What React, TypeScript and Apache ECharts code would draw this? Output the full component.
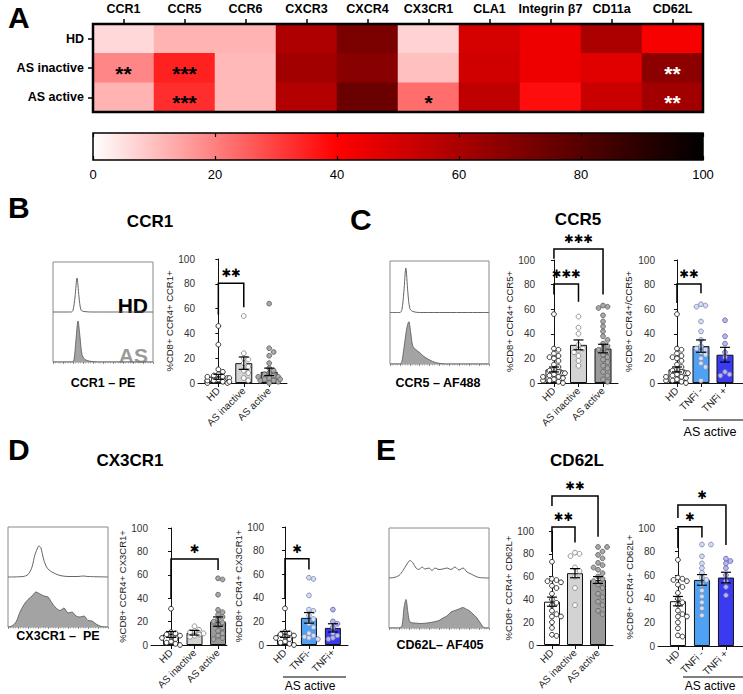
import React, { useEffect, useRef } from 'react';
import * as echarts from 'echarts';

const FONT = '"Liberation Sans", Arial, sans-serif';
const STARFONT = '"DejaVu Sans", sans-serif';

// ---------- Panel A: heatmap ----------
const markers = ['CCR1', 'CCR5', 'CCR6', 'CXCR3', 'CXCR4', 'CX3CR1', 'CLA1', 'Integrin β7', 'CD11a', 'CD62L'];
const heatRows = ['HD', 'AS inactive', 'AS active'];
const heatHD = [6, 12, 12, 59, 71, 7, 50, 44, 60, 42];
const heatInactive = [19, 35, 11, 62, 68, 10, 51, 44, 47, 67];
const heatActive = [12, 33, 11, 58, 75, 23, 55, 38, 53, 62];
const starsHD = ['', '', '', '', '', '', '', '', '', ''];
const starsInactive = ['**', '***', '', '', '', '', '', '', '', '**'];
const starsActive = ['', '***', '', '', '', '*', '', '', '', '**'];
const scaleColors = ['#ffffff', '#ff8080', '#ff0000', '#aa0000', '#550000', '#000000'];

// ---------- Histograms [position, density] ----------
const histB_HD = [[0, 0], [18, 0], [20, 0.03], [22, 0.3], [24, 0.68], [26, 0.3], [28, 0.04], [31, 0.01], [40, 0], [100, 0]];
const histB_AS = [[0, 0], [19, 0], [21, 0.05], [23, 0.45], [25, 0.82], [27, 0.5], [29, 0.15], [32, 0.05], [36, 0.02], [45, 0], [100, 0]];
const histC_HD = [[0, 0], [10, 0], [12, 0.05], [14, 0.4], [16, 0.86], [18, 0.4], [20, 0.08], [23, 0.02], [30, 0], [100, 0]];
const histC_AS = [[0, 0], [10, 0], [12, 0.05], [14, 0.3], [17, 0.7], [19, 0.82], [21, 0.6], [23, 0.35], [26, 0.28], [30, 0.22], [34, 0.15], [38, 0.1], [43, 0.05], [48, 0.02], [55, 0], [100, 0]];
const histD_HD = [[0, 0], [15, 0.01], [20, 0.05], [24, 0.2], [27, 0.45], [30, 0.6], [31, 0.62], [33, 0.58], [35, 0.4], [38, 0.22], [41, 0.14], [44, 0.1], [48, 0.06], [52, 0.03], [60, 0.01], [70, 0.01], [75, 0.02], [80, 0.01], [100, 0]];
const histD_AS = [[0, 0], [4, 0.02], [8, 0.1], [12, 0.3], [16, 0.45], [20, 0.55], [24, 0.62], [28, 0.7], [32, 0.66], [36, 0.62], [40, 0.6], [44, 0.48], [48, 0.38], [52, 0.33], [56, 0.38], [60, 0.28], [64, 0.3], [68, 0.22], [72, 0.2], [76, 0.22], [80, 0.13], [84, 0.12], [88, 0.06], [92, 0.02], [96, 0], [100, 0]];
const histE_HD = [[0, 0], [5, 0.01], [10, 0.05], [14, 0.15], [18, 0.28], [21, 0.35], [24, 0.3], [27, 0.2], [30, 0.17], [33, 0.22], [36, 0.18], [40, 0.2], [43, 0.15], [46, 0.2], [50, 0.17], [54, 0.18], [58, 0.2], [62, 0.17], [66, 0.22], [70, 0.16], [74, 0.2], [78, 0.12], [82, 0.08], [86, 0.04], [90, 0.01], [100, 0]];
const histE_AS = [[0, 0], [10, 0], [13, 0.05], [15, 0.4], [17, 0.57], [19, 0.3], [21, 0.12], [26, 0.1], [32, 0.09], [38, 0.1], [44, 0.12], [50, 0.15], [54, 0.2], [58, 0.24], [62, 0.32], [66, 0.35], [70, 0.38], [74, 0.41], [77, 0.38], [80, 0.35], [84, 0.28], [88, 0.2], [92, 0.08], [96, 0], [100, 0]];

// ---------- Bar chart categories ----------
const diseaseLabels = ['HD', 'AS inactive', 'AS active'];
const tnfLabelsSpaced = ['HD', 'TNFi -', 'TNFi +'];
const tnfLabels = ['HD', 'TNFi-', 'TNFi+'];

// CCR1
const ccr1Mean = [5, 16, 9];
const ccr1Sem = [2, 5, 3];
const ccr1HD = [46, 31, 11, 9, 7, 6, 5, 4, 3, 3, 2, 2, 1, 1, 0, 0, 4, 2, 1, 5];
const ccr1Inactive = [54, 24, 20, 19, 16, 13, 10, 8, 4, 2];
const ccr1Active = [64, 28, 25, 22, 16, 12, 10, 8, 7, 6, 5, 4, 3, 2, 1, 0, 2, 5, 3];
// CCR5
const ccr5Mean = [11, 31, 28];
const ccr5Sem = [2, 4, 3.5];
const ccr5HD = [56, 28, 27, 24, 22, 21, 20, 18, 15, 13, 11, 10, 9, 8, 7, 6, 5, 4, 3, 2, 2, 1, 0, 5, 8];
const ccr5Inactive = [54, 45, 40, 31, 28, 27, 25, 22, 18, 14];
const ccr5Active = [63, 62, 61, 55, 50, 46, 42, 38, 35, 32, 30, 28, 27, 25, 23, 21, 19, 17, 14, 12, 9, 6, 3, 1];
const ccr5TnfMean = [11, 30, 23];
const ccr5TnfSem = [2, 5, 6];
const ccr5TnfNeg = [64, 63, 62, 50, 42, 35, 30, 27, 25, 23, 20, 16, 13, 2, 28];
const ccr5TnfPos = [51, 38, 32, 25, 9, 7, 6, 21];
// CX3CR1
const cx3Mean = [9, 10.5, 20];
const cx3Sem = [2.5, 2, 4];
const cx3HD = [31, 11, 10, 9, 8, 7, 5, 3, 2, 1, 0, 6];
const cx3Inactive = [16, 13, 12, 11, 10, 9, 8, 7];
const cx3Active = [57, 56, 43, 30, 28, 26, 24, 22, 19, 17, 15, 12, 10, 8, 6, 5, 20];
const cx3TnfMean = [9, 23, 14.5];
const cx3TnfSem = [2.5, 4.5, 3.5];
const cx3TnfNeg = [57, 56, 42, 30, 29, 25, 22, 18, 15, 10, 8, 7, 6, 5];
const cx3TnfPos = [30, 20, 18, 15, 10, 8, 6, 5];
// CD62L
const cd62Mean = [38, 63, 57];
const cd62Sem = [4, 4, 3];
const cd62HD = [73, 58, 57, 56, 55, 52, 50, 45, 40, 37, 35, 30, 27, 25, 25, 20, 15, 9, 8];
const cd62Inactive = [81, 80, 78, 68, 65, 60, 50, 35];
const cd62Active = [86, 86, 82, 79, 76, 72, 70, 68, 66, 63, 60, 58, 56, 53, 50, 45, 42, 38, 35, 30, 27];
const cd62TnfMean = [38, 56, 58];
const cd62TnfSem = [4, 4.5, 4.5];
const cd62TnfNeg = [86, 86, 76, 70, 66, 62, 58, 56, 52, 47, 42, 37, 32, 26];
const cd62TnfPos = [74, 72, 70, 66, 60, 55, 50, 43];

// significance brackets: [group1, group2, top, left leg end, right leg end]
const ccr1Brackets = [[0, 1, 80.5, 55, 61]];
const ccr1Stars = ['✱✱'];
const ccr5Brackets = [[0, 1, 80.5, 72, 66], [0, 2, 109, 101, 72]];
const ccr5Stars = ['✱✱✱', '✱✱✱'];
const ccr5TnfBrackets = [[0, 1, 80.5, 65, 73]];
const ccr5TnfStars = ['✱✱'];
const cx3Brackets = [[0, 2, 73.5, 40, 64]];
const cx3Stars = ['✱'];
const cx3TnfBrackets = [[0, 1, 73, 39, 64]];
const cx3TnfStars = ['✱'];
const cd62Brackets = [[0, 1, 103.5, 81.5, 90], [0, 2, 130.7, 122, 95]];
const cd62Stars = ['✱✱', '✱✱'];
const cd62TnfBrackets = [[0, 1, 101, 83, 92], [0, 2, 119.5, 108.5, 85.6]];
const cd62TnfStars = ['✱', '✱'];

// styles
const grayFills = ['#ffffff', '#d3d3d3', '#9a9a9a'];
const grayPtFill = ['#ffffff', '#ffffff', '#a8a8a8'];
const grayPtStroke = ['#222222', '#888888', '#666666'];
const blueFills = ['#ffffff', '#4ea1f5', '#3a3af2'];
const bluePtFill = ['#ffffff', '#d6dcf0', '#b8b8ea'];
const bluePtStroke = ['#222222', '#7f8fb8', '#6a6ab8'];

function swarm(vals: number[], pxPerUnit: number): number[] {
  const placed: { x: number; y: number }[] = [];
  const out: number[] = [];
  const r = 4.6;
  const cands = [0, 4.5, -4.5, 9, -9, 11, -11];
  for (const v of vals) {
    const y = v * pxPerUnit;
    let chosen = cands[cands.length - 1] * (placed.length % 2 ? 1 : -1);
    for (const c of cands) {
      if (placed.every((p) => (p.x - c) ** 2 + (p.y - y) ** 2 >= r * r)) {
        chosen = c;
        break;
      }
    }
    placed.push({ x: chosen, y });
    out.push(chosen);
  }
  return out;
}

function buildOption() {
  const grids: any[] = [];
  const xAxes: any[] = [];
  const yAxes: any[] = [];
  const series: any[] = [];

  // ---- heatmap grid ----
  grids.push({ left: 93, top: 24, width: 610, height: 88 });
  xAxes.push({
    gridIndex: 0, type: 'category', data: markers, position: 'top',
    axisLine: { show: false },
    axisTick: { show: true, alignWithLabel: true, length: 5, lineStyle: { color: '#000', width: 1.5 } },
    axisLabel: { fontFamily: FONT, fontWeight: 'bold', fontSize: 12.5, color: '#000', margin: 9, interval: 0 },
    splitLine: { show: false },
  });
  yAxes.push({
    gridIndex: 0, type: 'category', data: heatRows, inverse: true,
    axisLine: { show: false },
    axisTick: { show: true, alignWithLabel: true, length: 5, lineStyle: { color: '#000', width: 1.5 } },
    axisLabel: { fontFamily: FONT, fontWeight: 'bold', fontSize: 12.5, color: '#000', margin: 9 },
    splitLine: { show: false },
  });
  const heatRowsData = [heatHD, heatInactive, heatActive];
  const heatStars = [starsHD, starsInactive, starsActive];
  const heatData: any[] = [];
  heatRowsData.forEach((row, r) =>
    row.forEach((v, c) =>
      heatData.push({
        value: [c, r, v],
        label: { formatter: heatStars[r][c] || ' ', color: v > 60 ? '#ffffff' : '#000000' },
      })
    )
  );
  series.push({
    type: 'heatmap', xAxisIndex: 0, yAxisIndex: 0, data: heatData, silent: true,
    label: { show: true, fontFamily: FONT, fontWeight: 'bold', fontSize: 21, offset: [0, 5] },
    itemStyle: { borderWidth: 0 },
  });
  series.push({
    type: 'custom', xAxisIndex: 0, yAxisIndex: 0, data: [[0, 0]], z: 10, silent: true,
    renderItem: (params: any) => {
      const cs = params.coordSys;
      return { type: 'rect', shape: { x: cs.x, y: cs.y, width: cs.width, height: cs.height }, style: { fill: 'transparent', stroke: '#000', lineWidth: 2.5 } };
    },
  });

  // ---- colour bar grid ----
  grids.push({ left: 93, top: 133, width: 610, height: 27 });
  xAxes.push({
    gridIndex: 1, type: 'value', min: 0, max: 100, interval: 20, position: 'bottom', z: 5,
    axisLine: { show: false },
    axisTick: { show: true, inside: true, length: 4, lineStyle: { color: '#000', width: 1.2 } },
    axisLabel: { fontFamily: FONT, fontSize: 13, color: '#000', margin: 8 },
    splitLine: { show: false },
  });
  xAxes.push({
    gridIndex: 1, type: 'value', min: 0, max: 100, interval: 20, position: 'top', z: 5,
    axisLine: { show: false },
    axisTick: { show: true, inside: true, length: 4, lineStyle: { color: '#000', width: 1.2 } },
    axisLabel: { show: false },
    splitLine: { show: false },
  });
  yAxes.push({ gridIndex: 1, type: 'value', min: 0, max: 1, show: false });
  series.push({
    type: 'custom', xAxisIndex: 1, yAxisIndex: 1, data: [[0, 0]], z: 1, silent: true,
    renderItem: (params: any) => {
      const cs = params.coordSys;
      return {
        type: 'rect', shape: { x: cs.x, y: cs.y, width: cs.width, height: cs.height },
        style: {
          fill: new echarts.graphic.LinearGradient(0, 0, 1, 0, scaleColors.map((c, i) => ({ offset: i / (scaleColors.length - 1), color: c }))),
          stroke: '#000', lineWidth: 1.5,
        },
      };
    },
  });

  // ---- histograms ----
  const hists = [
    { left: 53, top: 262, width: 100, height: 100, hd: histB_HD, as: histB_AS },
    { left: 390, top: 261, width: 99, height: 103, hd: histC_HD, as: histC_AS },
    { left: 8, top: 527, width: 100, height: 100, hd: histD_HD, as: histD_AS },
    { left: 389, top: 528, width: 100, height: 100, hd: histE_HD, as: histE_AS },
  ];
  hists.forEach((h) => {
    const gi = grids.length;
    grids.push({ left: h.left, top: h.top, width: h.width, height: h.height, show: true, borderColor: '#8a8a8a', borderWidth: 1 });
    const xi = xAxes.length;
    xAxes.push({
      gridIndex: gi, type: 'value', min: 0, max: 100, interval: 10,
      axisLine: { show: false },
      axisTick: { show: true, length: 2, lineStyle: { color: '#777', width: 0.8 } },
      minorTick: { show: true, splitNumber: 4, length: 1.5, lineStyle: { color: '#999', width: 0.6 } },
      axisLabel: { show: false }, splitLine: { show: false },
    });
    const yi = yAxes.length;
    yAxes.push({ gridIndex: gi, type: 'value', min: 0, max: 2, show: false });
    series.push({
      type: 'line', xAxisIndex: xi, yAxisIndex: yi, data: h.as, showSymbol: false, smooth: 0.3, silent: true,
      lineStyle: { color: '#555', width: 0.8 }, areaStyle: { color: '#a3a3a3', opacity: 1 },
    });
    series.push({
      type: 'line', xAxisIndex: xi, yAxisIndex: yi, data: h.hd.map((p) => [p[0], 1 + p[1]]), showSymbol: false, smooth: 0.3, silent: true,
      lineStyle: { color: '#555', width: 0.9 },
    });
  });

  // ---- bar panels ----
  const panels = [
    { left: 198, top: 259, width: 89, height: 124, min: -0.8, max: 2.7, nameGap: 24, name: '%CD8+ CCR4+ CCR1+', labels: diseaseLabels, means: ccr1Mean, sems: ccr1Sem, groups: [ccr1HD, ccr1Inactive, ccr1Active], fills: grayFills, ptFill: grayPtFill, ptStroke: grayPtStroke, brackets: ccr1Brackets, stars: ccr1Stars, bw: 17 },
    { left: 538, top: 260, width: 80, height: 123, min: -0.65, max: 2.61, nameGap: 23, name: '%CD8+ CCR4+ CCR5+', labels: diseaseLabels, means: ccr5Mean, sems: ccr5Sem, groups: [ccr5HD, ccr5Inactive, ccr5Active], fills: grayFills, ptFill: grayPtFill, ptStroke: grayPtStroke, brackets: ccr5Brackets, stars: ccr5Stars, bw: 17 },
    { left: 658, top: 260, width: 85, height: 123, min: -0.79, max: 2.75, nameGap: 25, name: '%CD8+ CCR4+/CCR5+', labels: tnfLabelsSpaced, means: ccr5TnfMean, sems: ccr5TnfSem, groups: [ccr5HD, ccr5TnfNeg, ccr5TnfPos], fills: blueFills, ptFill: bluePtFill, ptStroke: bluePtStroke, brackets: ccr5TnfBrackets, stars: ccr5TnfStars, bw: 17 },
    { left: 151, top: 528, width: 76, height: 117, min: -0.85, max: 2.38, nameGap: 20, name: '%CD8+ CCR4+ CX3CR1+', labels: diseaseLabels, means: cx3Mean, sems: cx3Sem, groups: [cx3HD, cx3Inactive, cx3Active], fills: grayFills, ptFill: grayPtFill, ptStroke: grayPtStroke, brackets: cx3Brackets, stars: cx3Stars, bw: 16 },
    { left: 267, top: 527, width: 81, height: 118, min: -0.75, max: 2.63, nameGap: 16, name: '%CD8+ CCR4+ CX3CR1+', labels: tnfLabels, means: cx3TnfMean, sems: cx3TnfSem, groups: [cx3HD, cx3TnfNeg, cx3TnfPos], fills: blueFills, ptFill: bluePtFill, ptStroke: bluePtStroke, brackets: cx3TnfBrackets, stars: cx3TnfStars, bw: 16 },
    { left: 537, top: 531, width: 76, height: 114, min: -0.65, max: 2.65, nameGap: 21, name: '%CD8+ CCR4+ CD62L+', labels: diseaseLabels, means: cd62Mean, sems: cd62Sem, groups: [cd62HD, cd62Inactive, cd62Active], fills: grayFills, ptFill: grayPtFill, ptStroke: grayPtStroke, brackets: cd62Brackets, stars: cd62Stars, bw: 16 },
    { left: 658, top: 528, width: 85, height: 118, min: -0.83, max: 2.71, nameGap: 22, name: '%CD8+ CCR4+ CD62L+', labels: tnfLabelsSpaced, means: cd62TnfMean, sems: cd62TnfSem, groups: [cd62HD, cd62TnfNeg, cd62TnfPos], fills: blueFills, ptFill: bluePtFill, ptStroke: bluePtStroke, brackets: cd62TnfBrackets, stars: cd62TnfStars, bw: 16 },
  ];

  panels.forEach((p) => {
    const gi = grids.length;
    grids.push({ left: p.left, top: p.top, width: p.width, height: p.height });
    const xi = xAxes.length;
    xAxes.push({
      gridIndex: gi, type: 'value', min: p.min, max: p.max,
      axisLine: { show: true, onZero: false, lineStyle: { color: '#111', width: 1 } },
      axisTick: { show: true, customValues: [0, 1, 2], length: 4, lineStyle: { color: '#111', width: 1 } },
      axisLabel: {
        customValues: [0, 1, 2], rotate: 45, fontFamily: FONT, fontSize: 10, color: '#222', margin: 6,
        formatter: (v: number) => p.labels[Math.round(v)] || '',
      },
      splitLine: { show: false },
    });
    const yi = yAxes.length;
    yAxes.push({
      gridIndex: gi, type: 'value', min: 0, max: 100, interval: 20,
      axisLine: { show: true, lineStyle: { color: '#111', width: 1 } },
      axisTick: { show: true, length: 3, lineStyle: { color: '#111' } },
      axisLabel: { fontFamily: FONT, fontSize: 10, color: '#333', margin: 3 },
      splitLine: { show: false },
      name: p.name, nameLocation: 'middle', nameRotate: 90, nameGap: p.nameGap,
      nameTextStyle: { fontFamily: FONT, fontSize: 9.5, color: '#222' },
    });
    series.push({
      type: 'bar', xAxisIndex: xi, yAxisIndex: yi, barWidth: p.bw, silent: true, z: 2,
      data: p.means.map((m, i) => ({ value: [i, m], itemStyle: { color: p.fills[i], borderColor: '#111', borderWidth: 1 } })),
    });
    const pts: number[][] = [];
    p.groups.forEach((g, i) => {
      const dx = swarm(g, p.height / 100);
      g.forEach((v, k) => pts.push([i, v, dx[k]]));
    });
    series.push({
      type: 'custom', xAxisIndex: xi, yAxisIndex: yi, data: pts, z: 4, silent: true,
      renderItem: (params: any, api: any) => {
        const i = api.value(0);
        const c = api.coord([i, api.value(1)]);
        return { type: 'circle', shape: { cx: c[0] + api.value(2), cy: c[1], r: 2.4 }, style: { fill: p.ptFill[i], stroke: p.ptStroke[i], lineWidth: 0.9 } };
      },
    });
    series.push({
      type: 'custom', xAxisIndex: xi, yAxisIndex: yi, data: p.means.map((m, i) => [i, m, p.sems[i]]), z: 5, silent: true,
      renderItem: (params: any, api: any) => {
        const i = api.value(0), m = api.value(1), s = api.value(2);
        const t = api.coord([i, m + s]);
        const b = api.coord([i, m - s]);
        const w = 5;
        const st = { stroke: '#000', lineWidth: 1.2 };
        return {
          type: 'group', children: [
            { type: 'line', shape: { x1: t[0], y1: t[1], x2: b[0], y2: b[1] }, style: st },
            { type: 'line', shape: { x1: t[0] - w, y1: t[1], x2: t[0] + w, y2: t[1] }, style: st },
            { type: 'line', shape: { x1: b[0] - w, y1: b[1], x2: b[0] + w, y2: b[1] }, style: st },
          ],
        };
      },
    });
    series.push({
      type: 'custom', xAxisIndex: xi, yAxisIndex: yi, data: p.brackets, z: 6, silent: true, clip: false,
      renderItem: (params: any, api: any) => {
        const i1 = api.value(0), i2 = api.value(1), top = api.value(2), l = api.value(3), r = api.value(4);
        const a = api.coord([i1, l]);
        const b = api.coord([i1, top]);
        const c = api.coord([i2, top]);
        const d = api.coord([i2, r]);
        return {
          type: 'group', children: [
            { type: 'polyline', shape: { points: [a, b, c, d] }, style: { stroke: '#000', lineWidth: 1.5, fill: 'none' } },
            { type: 'text', x: (b[0] + c[0]) / 2, y: b[1] - 10, style: { text: p.stars[params.dataIndex], fontFamily: STARFONT, fontSize: 11.5, fill: '#000', align: 'center', verticalAlign: 'middle' } },
          ],
        };
      },
    });
  });

  const txt = (text: string, x: number, y: number, size: number, opts: any = {}) => ({
    type: 'text', x, y, silent: true,
    style: { text, fontFamily: FONT, fontSize: size, fontWeight: opts.weight || 'bold', fill: opts.fill || '#000', align: opts.align || 'center', verticalAlign: 'middle' },
  });
  const ln = (x1: number, y1: number, x2: number, y2: number) => ({ type: 'line', silent: true, shape: { x1, y1, x2, y2 }, style: { stroke: '#000', lineWidth: 1 } });

  const graphic = [
    txt('A', 8, 17, 30, { align: 'left' }),
    txt('B', 8, 207, 30, { align: 'left' }),
    txt('C', 350, 219, 30, { align: 'left' }),
    txt('D', 8, 449, 30, { align: 'left' }),
    txt('E', 376, 449, 30, { align: 'left' }),
    txt('CCR1', 150, 221, 17),
    txt('CCR5', 578, 219, 17),
    txt('CX3CR1', 130, 460, 17),
    txt('CD62L', 577, 460, 17),
    txt('CCR1 – PE', 103, 383, 12.5),
    txt('CCR5 – AF488', 438, 383, 12.5),
    txt('CX3CR1 –  PE', 58, 636, 12.5),
    txt('CD62L– AF405', 440, 645, 12.5),
    txt('HD', 148, 305, 21, { align: 'right' }),
    txt('AS', 148, 355, 21, { align: 'right', fill: '#999999' }),
    ln(683, 420, 743, 420),
    txt('AS active', 710, 432, 12.5, { weight: 'normal' }),
    ln(283, 677, 346, 677),
    txt('AS active', 310, 686, 12, { weight: 'normal' }),
    ln(683, 677, 743, 677),
    txt('AS active', 710, 686, 12, { weight: 'normal' }),
  ];

  return {
    animation: false,
    backgroundColor: '#ffffff',
    grid: grids,
    xAxis: xAxes,
    yAxis: yAxes,
    visualMap: [{ type: 'continuous', show: false, min: 0, max: 100, seriesIndex: 0, inRange: { color: scaleColors } }],
    series,
    graphic,
  };
}

export default function App() {
  const ref = useRef<HTMLDivElement>(null);
  useEffect(() => {
    const chart = echarts.init(ref.current!, null, { renderer: 'svg' });
    chart.setOption(buildOption() as any);
    return () => chart.dispose();
  }, []);
  return <div ref={ref} style={{ position: 'absolute', left: 0, top: 0, width: 743, height: 694 }} />;
}
